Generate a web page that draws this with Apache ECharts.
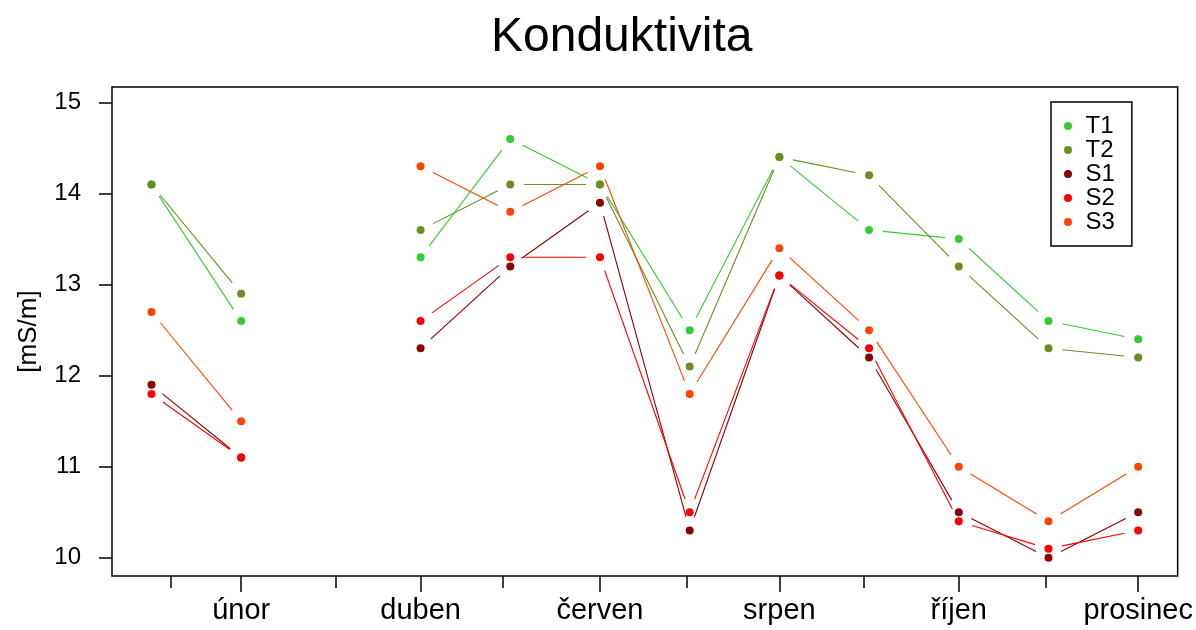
<!DOCTYPE html>
<html>
<head>
<meta charset="utf-8">
<script src="https://cdn.jsdelivr.net/npm/echarts@6/dist/echarts.min.js"></script>
<style>
  html, body { margin: 0; padding: 0; background: #fff; }
  #chart { width: 1196px; height: 630px; }
</style>
</head>
<body>
<div id="chart"></div>
<script>
// months on the x axis (March has no measurement)
const months = [1, 2, 3, 4, 5, 6, 7, 8, 9, 10, 11, 12];
const monthNames = ["leden", "únor", "březen", "duben", "květen", "červen",
  "červenec", "srpen", "září", "říjen", "listopad", "prosinec"];
const labelMonths = [2, 4, 6, 8, 10, 12];
const minorTicks = [1.22, 3.05, 4.92, 6.97, 8.94, 10.97];
const yTicks = [10, 11, 12, 13, 14, 15];

const seriesNames = ["T1", "T2", "S1", "S2", "S3"];
const seriesColors = ["#32CD32", "#6B8E23", "#8B0000", "#FF0000", "#FF4500"];

const t1 = [14.1, 12.6, null, 13.3, 14.6, 14.1, 12.5, 14.4, 13.6, 13.5, 12.6, 12.4];
const t2 = [14.1, 12.9, null, 13.6, 14.1, 14.1, 12.1, 14.4, 14.2, 13.2, 12.3, 12.2];
const s1 = [11.9, 11.1, null, 12.3, 13.2, 13.9, 10.3, 13.1, 12.2, 10.5, 10.0, 10.5];
const s2 = [11.8, 11.1, null, 12.6, 13.3, 13.3, 10.5, 13.1, 12.3, 10.4, 10.1, 10.3];
const s3 = [12.7, 11.5, null, 14.3, 13.8, 14.3, 11.8, 13.4, 12.5, 11.0, 10.4, 11.0];

const allValues = [t1, t2, s1, s2, s3];
const FONT = "Liberation Sans, Arial, sans-serif";
const GAP = 14; // R type="b": line stops short of the points

// segments between consecutive measured months
const toSegments = (vals) => {
  const segs = [];
  for (let i = 0; i < vals.length - 1; i++) {
    if (vals[i] != null && vals[i + 1] != null) {
      segs.push([months[i], vals[i], months[i + 1], vals[i + 1]]);
    }
  }
  return segs;
};

const lineSeries = (name, vals, color) => ({
  name: name + " line",
  type: "custom",
  coordinateSystem: "cartesian2d",
  xAxisIndex: 0,
  yAxisIndex: 0,
  silent: true,
  data: toSegments(vals),
  encode: {x: [0, 2], y: [1, 3]},
  renderItem: (params, api) => {
    const p1 = api.coord([api.value(0), api.value(1)]);
    const p2 = api.coord([api.value(2), api.value(3)]);
    const dx = p2[0] - p1[0], dy = p2[1] - p1[1];
    const len = Math.sqrt(dx * dx + dy * dy);
    if (len <= 2 * GAP) return null;
    const ux = dx / len, uy = dy / len;
    return {
      type: "line",
      shape: {
        x1: p1[0] + ux * GAP, y1: p1[1] + uy * GAP,
        x2: p2[0] - ux * GAP, y2: p2[1] - uy * GAP,
      },
      style: {stroke: color, lineWidth: 1.1},
    };
  },
});

const pointSeries = (name, vals, color) => ({
  name,
  type: "scatter",
  xAxisIndex: 0,
  yAxisIndex: 0,
  symbol: "circle",
  symbolSize: 8,
  itemStyle: {color, opacity: 1},
  data: months.map((m, i) => vals[i] == null ? null : [m, vals[i]]).filter(d => d),
});

const series = [];
seriesNames.forEach((name, i) => {
  series.push(lineSeries(name, allValues[i], seriesColors[i]));
  series.push(pointSeries(name, allValues[i], seriesColors[i]));
});

const chart = echarts.init(document.getElementById("chart"), null, {renderer: "canvas"});

chart.setOption({
  animation: false,
  backgroundColor: "#ffffff",
  title: {
    text: "Konduktivita",
    left: 491,
    top: 14,
    padding: 0,
    textStyle: {fontFamily: FONT, fontSize: 48, fontWeight: "normal", color: "#000"},
  },
  legend: {
    orient: "vertical",
    left: 1051,
    top: 102,
    padding: [12, 17, 12, 13],
    itemGap: 0,
    itemWidth: 25,
    itemHeight: 8,
    icon: "circle",
    borderColor: "#000",
    borderWidth: 1.5,
    borderRadius: 0,
    textStyle: {fontFamily: FONT, fontSize: 24, color: "#000", lineHeight: 24},
    data: seriesNames,
  },
  grid: {
    left: 112, right: 16, top: 87, bottom: 54,
    show: true,
    borderColor: "#000",
    borderWidth: 1.5,
    backgroundColor: "transparent",
  },
  xAxis: [
    {
      type: "value",
      position: "bottom",
      min: 0.56,
      max: 12.44,
      axisLine: {show: false},
      splitLine: {show: false},
      axisTick: {
        show: true,
        length: 16,
        customValues: labelMonths,
        lineStyle: {color: "#000", width: 1.5},
      },
      axisLabel: {
        customValues: labelMonths,
        formatter: (v) => monthNames[Math.round(v) - 1],
        margin: 20,
        fontFamily: FONT,
        fontSize: 29,
        color: "#000",
      },
    },
    {
      type: "value",
      position: "bottom",
      min: 0.56,
      max: 12.44,
      axisLine: {show: false},
      splitLine: {show: false},
      axisTick: {
        show: true,
        length: 12,
        customValues: minorTicks,
        lineStyle: {color: "#000", width: 1.5},
      },
      axisLabel: {show: false},
    },
  ],
  yAxis: {
    type: "value",
    min: 9.8,
    max: 15.17,
    name: "[mS/m]",
    nameLocation: "middle",
    nameGap: 70,
    nameTextStyle: {fontFamily: FONT, fontSize: 26, color: "#000"},
    axisLine: {show: false},
    splitLine: {show: false},
    axisTick: {
      show: true,
      length: 13,
      customValues: yTicks,
      lineStyle: {color: "#000", width: 1.5},
    },
    axisLabel: {
      customValues: yTicks,
      margin: 31,
      fontFamily: FONT,
      fontSize: 24,
      color: "#000",
    },
  },
  series,
});
</script>
</body>
</html>
